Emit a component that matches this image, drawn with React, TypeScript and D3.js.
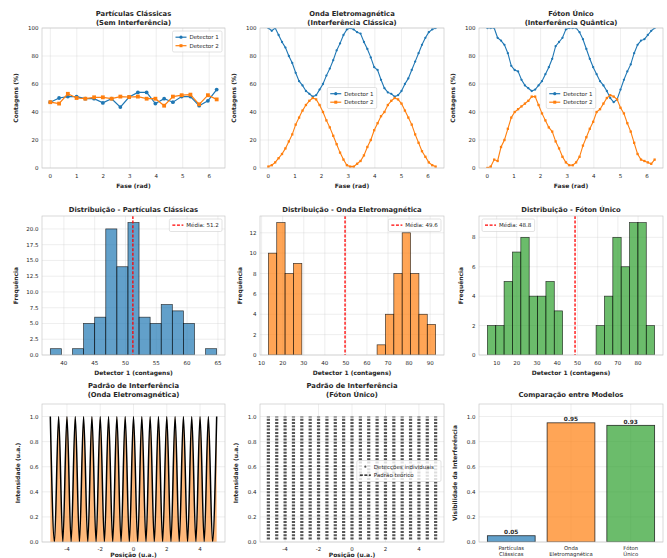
import React from 'react';
import * as d3 from 'd3';

const FONT = '"DejaVu Sans", Verdana, sans-serif';
const BLUE = '#1f77b4';
const ORANGE = '#ff7f0e';
const GREEN = '#2ca02c';
const RED = '#ff0000';
const INK = '#262626';
const GRID = '#cccccc';

// axes rectangles (pixels) for the 3x3 grid
const COLS: [number, number][] = [[42, 225], [260, 444], [479, 663]];
const ROWS: [number, number][] = [[28, 168], [216, 355], [404, 542]];

// ---------- row 1: detector counts vs phase ----------
const classicalD1 = [47, 50, 51, 51, 49.5, 49.5, 46.5, 49.5, 43.5, 50.7, 54, 54, 46, 49.5, 47, 51, 51, 44.5, 48, 56];
const classicalD2 = [47, 46, 53, 50, 49.5, 50.5, 50.5, 49.5, 51, 50.7, 51, 49.5, 49.5, 44.5, 51, 52, 52.4, 45.5, 52, 49];

const waveD1 = [100, 98, 100, 95, 90, 86, 80, 75, 68, 62, 59, 55, 53, 51, 52, 56, 60, 66, 71, 77, 84, 89, 95, 99, 100,
  99, 97, 96, 90, 85, 79, 72, 70, 63, 57, 54, 53, 51, 52, 55, 60, 64, 70, 76, 82, 88, 93, 97, 99, 100];
const waveD2 = [1, 2, 4, 7, 10, 14, 19, 24, 31, 36, 41, 45, 48, 50, 49, 45, 40, 34, 29, 23, 17, 11, 6, 2, 1,
  1, 3, 5, 9, 15, 20, 27, 32, 37, 40, 45, 48, 50, 49, 46, 41, 36, 31, 24, 18, 12, 8, 4, 2, 1];

const photonD1 = [100, 100, 100, 93, 91, 88, 82, 73, 70, 69, 63, 59, 57, 55, 56, 59, 62, 67, 72, 78, 87, 90, 93, 99, 100,
  100, 100, 97, 92, 85, 78, 72, 67, 62, 59, 55, 50, 47, 49, 56, 63, 69, 74, 82, 88, 91, 92, 95, 98, 100];
const photonD2 = [0, 1, 6, 5, 15, 20, 28, 36, 40, 42, 44, 46, 48, 51, 51, 45, 39, 34, 29, 26, 19, 14, 8, 4, 2,
  2, 4, 8, 16, 22, 28, 33, 40, 42, 46, 50, 52, 51, 49, 43, 39, 32, 26, 18, 10, 6, 5, 4, 3, 6];

const phaseTicks = [0, 1, 2, 3, 4, 5, 6];
const countTicks = [0, 20, 40, 60, 80, 100];

// ---------- row 2: histograms of detector 1 ----------
const classicalBins = [1, 0, 1, 5, 6, 20, 14, 21, 6, 5, 8, 7, 5, 0, 1];
const classicalBinStart = 37.8;
const classicalBinWidth = 1.8;
const waveBins = [10, 13, 8, 9, 0, 0, 0, 0, 0, 0, 0, 0, 0, 1, 4, 8, 12, 8, 4, 3];
const waveBinStart = 13.2;
const waveBinWidth = 3.97;
const photonBins = [2, 2, 5, 7, 8, 4, 4, 5, 3, 0, 0, 0, 0, 2, 4, 8, 6, 9, 9, 2];
const photonBinStart = 5.4;
const photonBinWidth = 4.14;
const histMeans = [51.2, 49.6, 48.8];

// ---------- row 3: fringe pattern + model comparison ----------
const fringePeaks = [-5, -4.5, -4, -3.5, -3, -2.5, -2, -1.5, -1, -0.5, 0, 0.5, 1, 1.5, 2, 2.5, 3, 3.5, 4, 4.5, 5];
const fringeValleys = [-4.75, -4.25, -3.75, -3.25, -2.75, -2.25, -1.75, -1.25, -0.75, -0.25,
  0.25, 0.75, 1.25, 1.75, 2.25, 2.75, 3.25, 3.75, 4.25, 4.75];
const positionTicks = [-4, -2, 0, 2, 4];
const intensityTicks = [0, 0.2, 0.4, 0.6, 0.8, 1.0];

const modelNames = [['Partículas', 'Clássicas'], ['Onda', 'Eletromagnética'], ['Fóton', 'Único']];
const modelColors = [BLUE, ORANGE, GREEN];
const visibility = [0.05, 0.95, 0.93];

type LegendItem = { label: string; color: string; marker?: 'o' | 's' | 'dot'; dash?: string; noLine?: boolean };

function Legend({ items, col, row, loc, dy = 0 }: { items: LegendItem[]; col: number; row: number; loc: string; dy?: number }) {
  const [x0, x1] = COLS[col];
  const [y0, y1] = ROWS[row];
  const maxChars = d3.max(items, d => d.label.length) || 0;
  const bw = 18 + maxChars * 3.15;
  const bh = items.length * 8.5 + 4;
  let left = x1 - 3 - bw;
  let top = y0 + 3;
  if (loc === 'upper left') left = x0 + 3;
  if (loc === 'center') { left = (x0 + x1) / 2 - bw / 2; top = (y0 + y1) / 2 - bh / 2; }
  if (loc === 'center right') top = (y0 + y1) / 2 - bh / 2;
  top += dy;
  return (
    <g>
      <rect x={left} y={top} width={bw} height={bh} rx={1.5} fill="#fff" fillOpacity={0.8} stroke="#d0d0d0" strokeWidth={0.6} />
      {items.map((it, i) => {
        const cy = top + 6.2 + i * 8.5;
        const lx = left + 3;
        return (
          <g key={i}>
            {!it.noLine && <line x1={lx} x2={lx + 11} y1={cy} y2={cy} stroke={it.color} strokeWidth={1.2} strokeDasharray={it.dash} />}
            {it.marker === 'o' && <circle cx={lx + 5.5} cy={cy} r={1.6} fill={it.color} />}
            {it.marker === 's' && <rect x={lx + 4} y={cy - 1.5} width={3} height={3} fill={it.color} />}
            {it.marker === 'dot' && <circle cx={lx + 5.5} cy={cy} r={1.1} fill="#555" />}
            <text x={lx + 14} y={cy + 2} fontSize={5.5} fill={INK}>{it.label}</text>
          </g>
        );
      })}
    </g>
  );
}

type PanelProps = {
  id: string; col: number; row: number;
  x: d3.ScaleLinear<number, number>; y: d3.ScaleLinear<number, number>;
  xTicks: number[]; yTicks: number[];
  xFmt?: (v: number) => string; yFmt?: (v: number) => string;
  xTickText?: string[][];
  title: string[]; titleDy: number[];
  xLabel: string; yLabel: string; yLabelX: number;
  tickDy?: number; labelDy?: number;
  children?: React.ReactNode;
  overlay?: React.ReactNode;
};

function Panel(p: PanelProps) {
  const [x0, x1] = COLS[p.col];
  const [y0, y1] = ROWS[p.row];
  const xf = p.xFmt || ((v: number) => String(v));
  const yf = p.yFmt || ((v: number) => String(v));
  const tickDy = p.tickDy ?? 10;
  const labelDy = p.labelDy ?? 20;
  return (
    <g>
      <defs>
        <clipPath id={p.id}><rect x={x0} y={y0} width={x1 - x0} height={y1 - y0} /></clipPath>
      </defs>
      {p.xTicks.map((t, i) => (
        <line key={'gx' + i} x1={p.x(t)} x2={p.x(t)} y1={y0} y2={y1} stroke={GRID} strokeOpacity={0.55} strokeWidth={0.6} />
      ))}
      {p.yTicks.map((t, i) => (
        <line key={'gy' + i} x1={x0} x2={x1} y1={p.y(t)} y2={p.y(t)} stroke={GRID} strokeOpacity={0.55} strokeWidth={0.6} />
      ))}
      <g clipPath={`url(#${p.id})`}>{p.children}</g>
      <rect x={x0} y={y0} width={x1 - x0} height={y1 - y0} fill="none" stroke="#c8c8c8" strokeWidth={0.7} />
      {p.xTicks.map((t, i) => (
        p.xTickText ? (
          <text key={'xt' + i} x={p.x(t)} y={y1 + tickDy} fontSize={5.3} fill={INK} textAnchor="middle">
            {p.xTickText[i].map((s, k) => <tspan key={k} x={p.x(t)} dy={k === 0 ? 0 : 6}>{s}</tspan>)}
          </text>
        ) : (
          <text key={'xt' + i} x={p.x(t)} y={y1 + tickDy} fontSize={5.5} fill={INK} textAnchor="middle">{xf(t)}</text>
        )
      ))}
      {p.yTicks.map((t, i) => (
        <text key={'yt' + i} x={x0 - 3.5} y={p.y(t) + 2} fontSize={5.5} fill={INK} textAnchor="end">{yf(t)}</text>
      ))}
      {p.title.map((s, i) => (
        <text key={'ti' + i} x={(x0 + x1) / 2} y={y0 + p.titleDy[i]} fontSize={6.8} fontWeight="bold" fill={INK} textAnchor="middle">{s}</text>
      ))}
      {p.xLabel && <text x={(x0 + x1) / 2} y={y1 + labelDy} fontSize={6} fontWeight="bold" fill={INK} textAnchor="middle">{p.xLabel}</text>}
      <text transform={`translate(${p.yLabelX},${(y0 + y1) / 2}) rotate(-90)`} fontSize={6} fontWeight="bold" fill={INK} textAnchor="middle">{p.yLabel}</text>
      {p.overlay}
    </g>
  );
}

const phase = (n: number) => d3.range(n).map(i => (i * 2 * Math.PI) / (n - 1));

function DetectorPanel({ col, id, title, d1, d2, big, legendLoc }: { col: number; id: string; title: string[]; d1: number[]; d2: number[]; big?: boolean; legendLoc: string }) {
  const [x0, x1] = COLS[col];
  const [y0, y1] = ROWS[0];
  const pad = Math.PI * 2 * 0.05;
  const x = d3.scaleLinear().domain([-pad, Math.PI * 2 + pad]).range([x0, x1]);
  const y = d3.scaleLinear().domain([0, 100]).range([y1, y0]);
  const ph = phase(d1.length);
  const line = d3.line<number>().x((_, i) => x(ph[i])).y(d => y(d));
  const r = big ? 1.9 : 1.15;
  const lw = big ? 1.2 : 1.1;
  return (
    <Panel id={id} col={col} row={0} x={x} y={y} xTicks={phaseTicks} yTicks={countTicks}
      title={title} titleDy={[-12, -3.5]} xLabel="Fase (rad)" yLabel="Contagens (%)" yLabelX={x0 - 24}
      overlay={<Legend col={col} row={0} loc={legendLoc} items={[
        { label: 'Detector 1', color: BLUE, marker: 'o' },
        { label: 'Detector 2', color: ORANGE, marker: 's' },
      ]} />}>
      <path d={line(d1) || ''} fill="none" stroke={BLUE} strokeWidth={lw} />
      {d1.map((v, i) => <circle key={'a' + i} cx={x(ph[i])} cy={y(v)} r={r} fill={BLUE} />)}
      <path d={line(d2) || ''} fill="none" stroke={ORANGE} strokeWidth={lw} />
      {d2.map((v, i) => <rect key={'b' + i} x={x(ph[i]) - r} y={y(v) - r} width={2 * r} height={2 * r} fill={ORANGE} />)}
    </Panel>
  );
}

function HistPanel({ col, id, title, bins, start, width, color, mean, legendLoc, yTicks, yFmt, xTicks, yLabelX }:
  { col: number; id: string; title: string; bins: number[]; start: number; width: number; color: string; mean: number; legendLoc: string; yTicks: number[]; yFmt?: (v: number) => string; xTicks: number[]; yLabelX: number }) {
  const [x0, x1] = COLS[col];
  const [y0, y1] = ROWS[1];
  const end = start + bins.length * width;
  const pad = (end - start) * 0.05;
  const x = d3.scaleLinear().domain([start - pad, end + pad]).range([x0, x1]);
  const y = d3.scaleLinear().domain([0, (d3.max(bins) || 1) * 1.05]).range([y1, y0]);
  return (
    <Panel id={id} col={col} row={1} x={x} y={y} xTicks={xTicks} yTicks={yTicks} yFmt={yFmt}
      title={[title]} titleDy={[-4.5]} xLabel="Detector 1 (contagens)" yLabel="Frequência" yLabelX={yLabelX}
      overlay={<Legend col={col} row={1} loc={legendLoc} items={[{ label: `Média: ${mean.toFixed(1)}`, color: RED, dash: '3,1.6' }]} />}>
      {bins.map((c, i) => c > 0 && (
        <rect key={i} x={x(start + i * width)} y={y(c)} width={x(start + (i + 1) * width) - x(start + i * width)} height={y(0) - y(c)}
          fill={color} fillOpacity={0.7} stroke="#000" strokeOpacity={0.75} strokeWidth={0.7} />
      ))}
      <line x1={x(mean)} x2={x(mean)} y1={y0} y2={y1} stroke={RED} strokeWidth={1.3} strokeDasharray="3,1.6" />
    </Panel>
  );
}

function App() {
  // fringe pattern points: peaks at full intensity, valleys at zero
  const fringe = [
    ...fringePeaks.map(p => ({ x: p, v: 1 })),
    ...fringeValleys.map(p => ({ x: p, v: 0 })),
  ].sort((a, b) => a.x - b.x);

  const [c0a, c0b] = COLS[0];
  const [c1a, c1b] = COLS[1];
  const [c2a, c2b] = COLS[2];
  const [r2a, r2b] = ROWS[2];
  const xPos0 = d3.scaleLinear().domain([-5.5, 5.5]).range([c0a, c0b]);
  const xPos1 = d3.scaleLinear().domain([-5.5, 5.5]).range([c1a, c1b]);
  const yInt = d3.scaleLinear().domain([0, 1.1]).range([r2b, r2a]);
  const area = d3.area<{ x: number; v: number }>().x(d => xPos0(d.x)).y0(yInt(0)).y1(d => yInt(d.v)).curve(d3.curveMonotoneX);
  const curve = d3.line<{ x: number; v: number }>().x(d => xPos0(d.x)).y(d => yInt(d.v)).curve(d3.curveMonotoneX);

  const xBar = d3.scaleLinear().domain([-0.54, 2.54]).range([c2a, c2b]);
  const f1 = (v: number) => v.toFixed(1);

  return (
    <div style={{ position: 'fixed', left: 0, top: 0 }}>
      <svg width={667} height={558} style={{ display: 'block', background: '#fff', fontFamily: FONT }}>
        <DetectorPanel col={0} id="c1" title={['Partículas Clássicas', '(Sem Interferência)']} d1={classicalD1} d2={classicalD2} big legendLoc="upper right" />
        <DetectorPanel col={1} id="c2" title={['Onda Eletromagnética', '(Interferência Clássica)']} d1={waveD1} d2={waveD2} legendLoc="center" />
        <DetectorPanel col={2} id="c3" title={['Fóton Único', '(Interferência Quântica)']} d1={photonD1} d2={photonD2} legendLoc="center" />

        <HistPanel col={0} id="h1" title="Distribuição - Partículas Clássicas" bins={classicalBins} start={classicalBinStart} width={classicalBinWidth}
          color={BLUE} mean={histMeans[0]} legendLoc="upper right" yTicks={[0, 2.5, 5, 7.5, 10, 12.5, 15, 17.5, 20]} yFmt={f1}
          xTicks={[40, 45, 50, 55, 60, 65]} yLabelX={c0a - 24} />
        <HistPanel col={1} id="h2" title="Distribuição - Onda Eletromagnética" bins={waveBins} start={waveBinStart} width={waveBinWidth}
          color={ORANGE} mean={histMeans[1]} legendLoc="upper right" yTicks={[0, 2, 4, 6, 8, 10, 12]}
          xTicks={[10, 20, 30, 40, 50, 60, 70, 80, 90]} yLabelX={c1a - 18} />
        <HistPanel col={2} id="h3" title="Distribuição - Fóton Único" bins={photonBins} start={photonBinStart} width={photonBinWidth}
          color={GREEN} mean={histMeans[2]} legendLoc="upper left" yTicks={[0, 2, 4, 6, 8]}
          xTicks={[10, 20, 30, 40, 50, 60, 70, 80]} yLabelX={c2a - 16} />

        <Panel id="p1" col={0} row={2} x={xPos0} y={yInt} xTicks={positionTicks} yTicks={intensityTicks} yFmt={f1}
          title={['Padrão de Interferência', '(Onda Eletromagnética)']} titleDy={[-16.5, -7.5]}
          xLabel="Posição (u.a.)" yLabel="Intensidade (u.a.)" yLabelX={c0a - 22} tickDy={8.5} labelDy={15}>
          <path d={area(fringe) || ''} fill={ORANGE} fillOpacity={0.55} />
          <path d={curve(fringe) || ''} fill="none" stroke="#000" strokeWidth={1.5} />
        </Panel>

        <Panel id="p2" col={1} row={2} x={xPos1} y={yInt} xTicks={positionTicks} yTicks={intensityTicks} yFmt={f1}
          title={['Padrão de Interferência', '(Fóton Único)']} titleDy={[-16.5, -7.5]}
          xLabel="Posição (u.a.)" yLabel="Intensidade (u.a.)" yLabelX={c1a - 22} tickDy={8.5} labelDy={15}
          overlay={<Legend col={1} row={2} loc="center right" dy={-2} items={[
            { label: 'Detecções individuais', color: '#555', marker: 'dot', noLine: true },
            { label: 'Padrão teórico', color: '#000', dash: '3,1.5' },
          ]} />}>
          {fringePeaks.map((p, i) => (
            <line key={i} x1={xPos1(p)} x2={xPos1(p)} y1={yInt(0.02)} y2={yInt(1.0)} stroke="#2a2a2a" strokeOpacity={0.8}
              strokeWidth={3.2} strokeDasharray="2,1.3" />
          ))}
        </Panel>

        <Panel id="p3" col={2} row={2} x={xBar} y={yInt} xTicks={[0, 1, 2]} yTicks={intensityTicks} yFmt={f1}
          xTickText={modelNames} title={['Comparação entre Modelos']} titleDy={[-7]} tickDy={8}
          xLabel="" yLabel="Visibilidade da Interferência" yLabelX={c2a - 22}>
          {visibility.map((v, i) => (
            <g key={i}>
              <rect x={xBar(i - 0.4)} y={yInt(v)} width={xBar(i + 0.4) - xBar(i - 0.4)} height={yInt(0) - yInt(v)}
                fill={modelColors[i]} fillOpacity={0.7} stroke="#000" strokeOpacity={0.8} strokeWidth={0.8} />
              <text x={xBar(i)} y={yInt(v) - 1.8} fontSize={5.8} fontWeight="bold" fill={INK} textAnchor="middle">{v.toFixed(2)}</text>
            </g>
          ))}
        </Panel>
      </svg>
    </div>
  );
}

export default App;
